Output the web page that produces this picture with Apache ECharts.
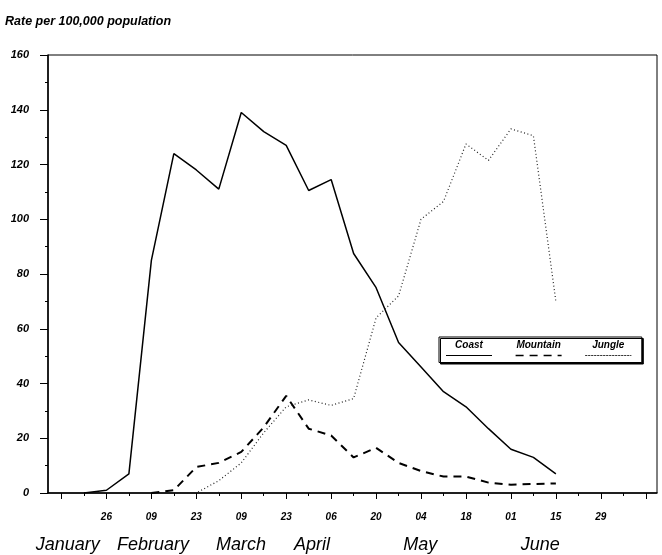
<!DOCTYPE html>
<html>
<head>
<meta charset="utf-8">
<script src="https://cdn.jsdelivr.net/npm/echarts@6/dist/echarts.min.js"></script>
<style>
  html, body { margin: 0; padding: 0; background: #fff; }
  #chart { width: 662px; height: 555px; }
</style>
</head>
<body>
<div id="chart"></div>
<script>
// Week index 0 = Jan 12, one step per week
const weekLabels = ['12','19','26','02','09','16','23','02','09','16','23','30','06','13','20','27','04','11','18','25','01','08','15','22','29','06','13'];
const labeledWeeks = [2,4,6,8,10,12,14,16,18,20,22,24];
const majorTickWeeks = [0,2,4,6,8,10,12,14,16,18,20,22,24,26];
const allWeeks = weekLabels.map((_, i) => i);
const monthNames = ['January','February','March','April','May','June'];
const monthPositions = [0.28, 4.07, 7.99, 11.15, 15.96, 21.3];

// values per week index (null = no data)
const coast    = [null, 0, 1, 7, 85, 124, 118, 111, 139, 132, 127, 110.5, 114.5, 87.5, 75, 55, 46, 37, 31.5, 23.5, 16, 13, 7];
const mountain = [null, null, null, null, 0, 1, 9.5, 11, 15, 24, 35.5, 23.5, 21, 13, 16.5, 11, 8, 6, 6, 3.8, 3, 3.3, 3.5];
const jungle   = [null, null, null, null, null, 0, 0, 4.5, 11, 22, 31.5, 34, 32, 34.5, 64, 72, 100, 106.5, 127.5, 121.5, 133, 130.5, 70];

const seriesNames = ['Coast', 'Mountain', 'Jungle'];

function toPairs(arr) {
  const out = [];
  arr.forEach((v, i) => { if (v !== null) out.push([i, v]); });
  return out;
}

const FONT = '"Liberation Sans", Arial, sans-serif';
const chart = echarts.init(document.getElementById('chart'));

const sampleKey = { Coast: 'sSolid', Mountain: 'sDash', Jungle: 'sDot' };

const option = {
  animation: false,
  backgroundColor: '#fff',
  title: {
    text: 'Rate per 100,000 population',
    left: 0, top: 10,
    textStyle: { fontFamily: FONT, fontSize: 12.5, fontStyle: 'italic', fontWeight: 'bold', color: '#000' }
  },
  grid: {
    left: 48, right: 5, top: 55, bottom: 62,
    show: true, borderColor: '#000', borderWidth: 1, backgroundColor: 'transparent'
  },
  legend: {
    left: 439, top: 337,
    orient: 'horizontal',
    data: seriesNames,
    itemWidth: 1, itemHeight: 1,
    itemGap: 16,
    itemStyle: { opacity: 0 },
    lineStyle: { opacity: 0 },
    selectedMode: false,
    backgroundColor: '#fff',
    borderColor: '#000', borderWidth: 1,
    shadowColor: '#000', shadowBlur: 0, shadowOffsetX: 1.5, shadowOffsetY: 1.5,
    padding: [3, 10, 1, 0],
    formatter: name => `{n|${name}}\n{${sampleKey[name]}| }`,
    textStyle: {
      rich: {
        n: { fontFamily: FONT, fontSize: 10, fontStyle: 'italic', fontWeight: 'bold', color: '#000', align: 'center', width: 46, lineHeight: 13 },
        sSolid: { width: 46, height: 0, lineHeight: 8, borderColor: '#000', borderWidth: 1.2, borderType: 'solid' },
        sDash: { width: 46, height: 0, lineHeight: 8, borderColor: '#000', borderWidth: 1.4, borderType: [8, 6] },
        sDot: { width: 46, height: 0, lineHeight: 8, borderColor: '#000', borderWidth: 1, borderType: [1, 2] }
      }
    }
  },
  xAxis: [
    {
      type: 'value', min: -0.6, max: 26.5, position: 'bottom',
      axisLine: { show: true, onZero: false, lineStyle: { color: '#000', width: 1.5 } },
      axisTick: { show: true, customValues: majorTickWeeks, length: 6, lineStyle: { color: '#000', width: 1 } },
      axisLabel: {
        customValues: labeledWeeks, margin: 19,
        formatter: v => weekLabels[Math.round(v)],
        fontFamily: FONT, fontSize: 10, fontStyle: 'italic', fontWeight: 'bold', color: '#000'
      },
      splitLine: { show: false }
    },
    {
      type: 'value', min: -0.6, max: 26.5, position: 'bottom', offset: 0,
      axisLine: { show: false, onZero: false },
      axisTick: { show: true, customValues: allWeeks, length: 3, lineStyle: { color: '#000', width: 1 } },
      axisLabel: { show: false },
      splitLine: { show: false }
    },
    {
      type: 'value', min: -0.6, max: 26.5, position: 'bottom', offset: 0,
      axisLine: { show: false, onZero: false },
      axisTick: { show: false },
      axisLabel: {
        customValues: monthPositions, margin: 43,
        formatter: v => monthNames[monthPositions.indexOf(v)],
        fontFamily: FONT, fontSize: 18, fontStyle: 'italic', color: '#000'
      },
      splitLine: { show: false }
    }
  ],
  yAxis: {
    type: 'value', min: 0, max: 160, interval: 20, position: 'left',
    axisLine: { show: true, onZero: false, lineStyle: { color: '#000', width: 1.5 } },
    axisTick: { show: true, length: 8, lineStyle: { color: '#000', width: 1 } },
    minorTick: { show: true, splitNumber: 2, length: 3, lineStyle: { color: '#000', width: 1 } },
    axisLabel: { margin: 19, fontFamily: FONT, fontSize: 11, fontStyle: 'italic', fontWeight: 'bold', color: '#000' },
    splitLine: { show: false }
  },
  series: [
    {
      name: 'Coast', type: 'line', xAxisIndex: 0, data: toPairs(coast),
      symbol: 'none', lineStyle: { color: '#000', width: 1.5, type: 'solid' }, itemStyle: { color: '#000' }
    },
    {
      name: 'Mountain', type: 'line', xAxisIndex: 0, data: toPairs(mountain),
      symbol: 'none', lineStyle: { color: '#000', width: 2, type: [8, 6] }, itemStyle: { color: '#000' }
    },
    {
      name: 'Jungle', type: 'line', xAxisIndex: 0, data: toPairs(jungle),
      symbol: 'none', lineStyle: { color: '#222', width: 1.2, type: [1, 2.5] }, itemStyle: { color: '#000' }
    }
  ]
};

chart.setOption(option);
</script>
</body>
</html>
